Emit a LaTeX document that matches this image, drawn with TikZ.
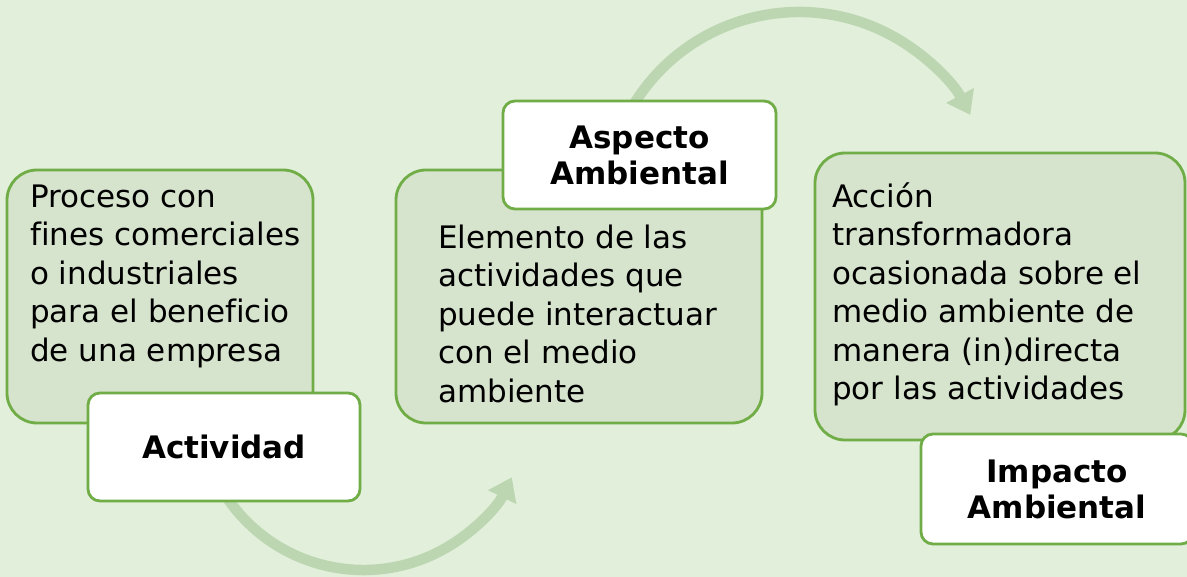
\documentclass[tikz,border=0pt]{standalone}
\usepackage{fontspec}
\setmainfont[Ligatures=NoCommon]{DejaVu Sans}
\usepackage{xcolor}
\usetikzlibrary{arrows.meta}
\usetikzlibrary{positioning}
\usetikzlibrary{calc}
\definecolor{pagegreen}{HTML}{E2EFDA}
\definecolor{boxfill}{HTML}{D6E3CD}
\definecolor{boxline}{HTML}{70AD47}
\definecolor{flowgreen}{HTML}{BCD6B2}
\tikzstyle{greenbox}=[rectangle,draw=boxline,fill=boxfill,line width=2.8pt,rounded corners=30pt,inner sep=0pt]
\tikzstyle{labelbox}=[rectangle,draw=boxline,fill=white,line width=2.8pt,rounded corners=12pt,inner sep=0pt,align=center,font=\fontsize{31}{36}\selectfont\bfseries]
\tikzstyle{bodytext}=[align=left,inner sep=0pt,anchor=north west,font=\fontsize{31}{38.5}\selectfont]
\tikzstyle{flow}=[draw=flowgreen,line width=10.5pt,-{Triangle[length=22pt,width=30pt]}]

\begin{document}
\begin{tikzpicture}[x=1pt,y=-1pt]

  \fill[pagegreen] (0,0) rectangle (1187,577);
  \useasboundingbox (0,0) rectangle (1187,577);

  % curved arrows behind the boxes
  \coordinate (lowpivot) at (363.5,405);
  \coordinate (highpivot) at (799,206);
  \draw[flow] ($(lowpivot)+(150:165)$) arc[start angle=150, end angle=26, radius=165];
  \draw[flow] ($(highpivot)+(-150:194)$) arc[start angle=-150, end angle=-28, radius=194];

  % green boxes
  \foreach \x/\y/\w/\h/\name in {160/296.5/306/253/actbox, 579/296.5/366/253/aspbox, 1000/296.5/370/287/impbox}
          \node[greenbox,minimum width=\w pt,minimum height=\h pt] (\name) at (\x,\y) {};

  \node[bodytext] (acttext) at (30,180) {\strut Proceso con\\fines comerciales\\o industriales\\para el beneficio\\de una empresa};
  \node[bodytext] (asptext) at (438,221) {\strut Elemento de las\\actividades que\\puede interactuar\\con el medio\\ambiente};
  \node[bodytext] (imptext) at (832,180) {\strut Acción\\transformadora\\ocasionada sobre el\\medio ambiente de\\manera (in)directa\\por las actividades};

  % label boxes
  \node[labelbox,minimum width=272pt,minimum height=108pt] (actlabel) at (224,447) {Actividad};
  \node[labelbox,minimum width=273pt,minimum height=108pt] (asplabel) at (639.5,155) {Aspecto\\Ambiental};
  \node[labelbox,minimum width=272pt,minimum height=110pt] (implabel) at (1057,489) {Impacto\\Ambiental};

\end{tikzpicture}
\end{document}
